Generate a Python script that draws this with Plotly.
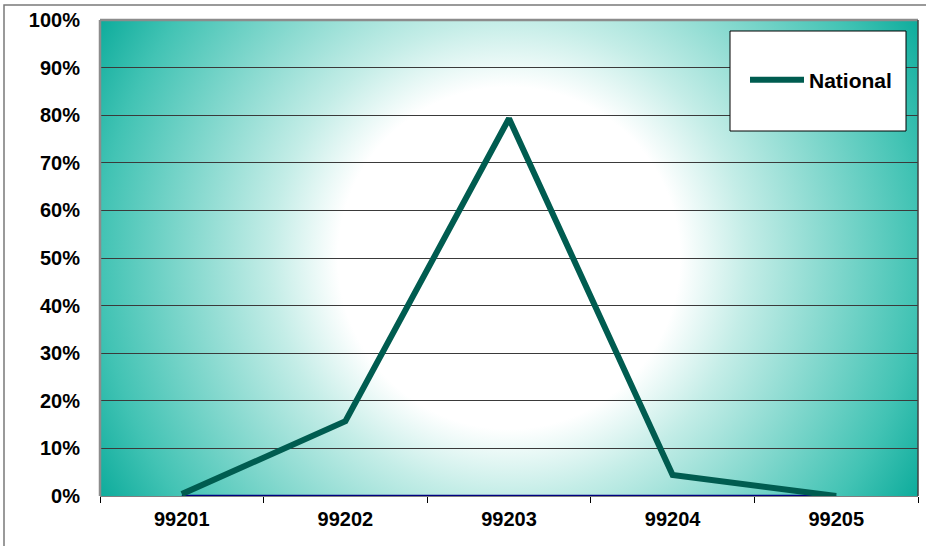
import base64
import plotly.graph_objects as go

# Chart data
categories = ["99201", "99202", "99203", "99204", "99205"]
national = [0.004, 0.157, 0.793, 0.044, 0.0]
baseline = [0.0, 0.0, 0.0, 0.0, 0.0]
y_ticks = [0, 0.1, 0.2, 0.3, 0.4, 0.5, 0.6, 0.7, 0.8, 0.9, 1.0]

W, H = 926, 546
L, R, T, B = 100, 8, 20, 50
PW, PH = W - L - R, H - T - B

FONT = "Liberation Sans, Arial, sans-serif"

# Radial white-to-teal fill behind the plot area
svg = f"""<svg xmlns="http://www.w3.org/2000/svg" width="{PW}" height="{PH}" viewBox="0 0 {PW} {PH}" preserveAspectRatio="none">
<defs><radialGradient id="g" gradientUnits="userSpaceOnUse" cx="{PW/2}" cy="{PH/2}" r="475">
<stop offset="0" stop-color="#ffffff"/>
<stop offset="0.36" stop-color="#ffffff"/>
<stop offset="0.5" stop-color="#c4ede7"/>
<stop offset="0.86" stop-color="#42c3b4"/>
<stop offset="1" stop-color="#0cab9b"/>
</radialGradient></defs>
<rect x="0" y="0" width="{PW}" height="{PH}" fill="url(#g)"/>
</svg>"""
bg_src = "data:image/svg+xml;base64," + base64.b64encode(svg.encode()).decode()

fig = go.Figure()
fig.add_trace(go.Scatter(
    x=categories, y=baseline, mode="lines", name="Baseline",
    line=dict(color="#000080", width=2.5), showlegend=False, cliponaxis=False,
))
fig.add_trace(go.Scatter(
    x=categories, y=national, mode="lines", name="National",
    line=dict(color="#005c50", width=6), cliponaxis=False,
))

def px_x(px):
    return (px - L) / PW

def px_y(py):
    return (H - B - py) / PH

shapes = [
    # outer chart frame
    dict(type="rect", xref="paper", yref="paper",
         x0=px_x(4), x1=px_x(940), y0=px_y(560), y1=px_y(5),
         line=dict(color="#7a7a7a", width=1.5), fillcolor="rgba(0,0,0,0)", layer="above"),
    # plot area edges
    dict(type="line", xref="paper", yref="paper", x0=0, x1=1, y0=1, y1=1,
         line=dict(color="#8c8c8c", width=2.5)),
    dict(type="line", xref="paper", yref="paper", x0=0, x1=0, y0=0, y1=1,
         line=dict(color="#8c8c8c", width=2.5)),
    dict(type="line", xref="paper", yref="paper", x0=1, x1=1, y0=0, y1=1,
         line=dict(color="#404040", width=1.5)),
    # legend box
    dict(type="rect", xref="paper", yref="paper",
         x0=px_x(730), x1=px_x(906), y0=px_y(131), y1=px_y(31),
         line=dict(color="#000000", width=1), fillcolor="#ffffff", layer="above"),
]

fig.update_layout(
    width=W, height=H,
    margin=dict(l=L, r=R, t=T, b=B),
    paper_bgcolor="#ffffff",
    plot_bgcolor="rgba(0,0,0,0)",
    font=dict(family=FONT, size=20, color="#000000"),
    images=[dict(source=bg_src, xref="paper", yref="paper", x=0, y=1,
                 sizex=1, sizey=1, xanchor="left", yanchor="top",
                 sizing="stretch", layer="below")],
    shapes=shapes,
    showlegend=True,
    legend=dict(
        x=px_x(745), y=px_y(80), xanchor="left", yanchor="middle",
        bgcolor="rgba(0,0,0,0)", borderwidth=0,
        font=dict(family=FONT, size=21, color="#000000", weight="bold"),
        itemwidth=54, tracegroupgap=0,
    ),
    xaxis=dict(
        type="category", range=[-0.5, 4.5], tickson="boundaries",
        ticks="outside", ticklen=6, tickcolor="#000000", tickwidth=1,
        showgrid=False, showline=True, linecolor="#808080", linewidth=1,
        tickfont=dict(family=FONT, size=20, weight="bold"),
        ticklabelstandoff=5, zeroline=False,
    ),
    yaxis=dict(
        range=[0, 1], tickvals=y_ticks, tickformat=".0%",
        showgrid=True, gridcolor="#3a3a3a", gridwidth=1,
        zeroline=False, showline=False, ticks="",
        tickfont=dict(family=FONT, size=20, weight="bold"),
        ticklabelstandoff=19,
    ),
)

fig.write_html("out.html")
